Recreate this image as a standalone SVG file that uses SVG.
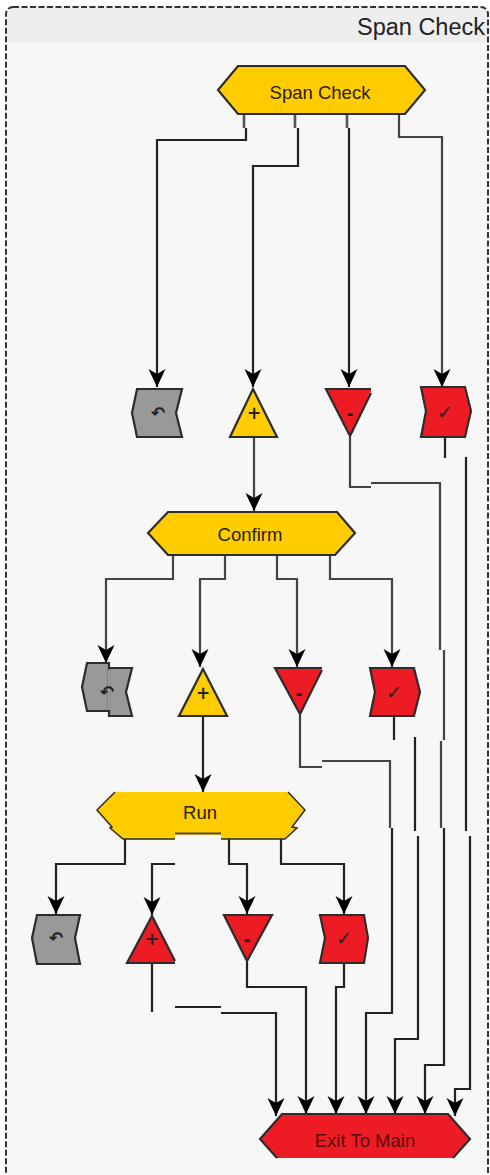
<svg xmlns="http://www.w3.org/2000/svg" width="490" height="1175" viewBox="0 0 490 1175">
<style>
text{font-family:"Liberation Sans",Arial,sans-serif;text-anchor:middle}
.lbl{font-size:18.5px;fill:#2a2000}
.sym{font-family:"DejaVu Sans",sans-serif;font-size:17px;font-weight:bold;fill:#222}
.chk{font-family:"DejaVu Sans",sans-serif;font-size:19px;fill:#222}
.n{stroke:#2c2c2c;stroke-width:2.2;stroke-linejoin:miter}
.y{fill:#ffcc00}.r{fill:#ed1c24}.g{fill:#999}
.c{fill:none;stroke:#222;stroke-width:2.2}
.m{stroke:#444}
.a{marker-end:url(#ah)}
.s{fill:none;stroke:#555;stroke-width:2.6}
</style>
<defs>
<marker id="ah" markerUnits="userSpaceOnUse" viewBox="0 -10 20 20" refX="18" refY="0" markerWidth="20" markerHeight="20" orient="auto"><path d="M18,0 L0,-8.500 L5,0 L0,8.500Z" fill="#000"/></marker>
</defs>
<rect x="0" y="0" width="490" height="1175" fill="#fff"/>
<rect x="6" y="7" width="482" height="1180" rx="7" fill="#f7f7f7"/>
<path d="M7,42V14a7,7 0 0 1 7,-7H481a7,7 0 0 1 7,7V42Z" fill="#eee"/>
<rect x="6" y="7" width="482" height="1180" rx="7" fill="none" stroke="#333" stroke-width="2" stroke-dasharray="6 2.500"/>
<text x="421" y="35" style="font-size:23.5px" fill="#222">Span Check</text>
<g id="connectors">
<path class="s" d="M244,114V128M295,114V128M347,114V128"/>
<path class="c a" d="M246,128V140H157V387"/>
<path class="c a" d="M298,128V166H253V387"/>
<path class="c a" d="M349,128V387"/>
<path class="c m a" d="M399,114V137H442V387"/>
<path class="c m" d="M350,437V487H371"/>
<path class="c m" d="M371,483H440V650"/>
<path class="c m" d="M444,650V740"/>
<path class="c m" d="M441,741V828"/>
<path class="c" d="M445,437V458"/>
<path class="c" d="M466,457V831"/>
<path class="c m a" d="M254,437V511"/>
<path class="c m a" d="M173,555V579H106V663"/>
<path class="c m a" d="M225,555V579H200V667"/>
<path class="c m a" d="M277,555V579H297V667"/>
<path class="c m a" d="M330,555V579H392V667"/>
<path class="c m" d="M300,715V767H322"/>
<path class="c m" d="M322,761H390V828"/>
<path class="c" d="M394,717V740"/>
<path class="c" d="M415,737V831"/>
<path class="c a" d="M203,717V792"/>
<path class="c a" d="M392,828V1013H366V1114"/>
<path class="c a" d="M418,836V1039H395V1114"/>
<path class="c a" d="M444,828V1065H425V1114"/>
<path class="c a" d="M470,836V1089H455V1116"/>
<path class="c a" d="M125,839V864H56V914"/>
<path class="c a" d="M175,864H152V915"/>
<path class="c a" d="M229,839V864H247V914"/>
<path class="c a" d="M281,839V864H344V914"/>
<path class="c" d="M152,963V1012"/>
<path class="c" d="M175,1007H221"/>
<path class="c a" d="M221,1013H276V1116"/>
<path class="c a" d="M247,962V987H306V1114"/>
<path class="c a" d="M344,963V987H336V1114"/>
</g>
<g id="span-check"><polygon class="n y" points="238,66 405,66 425,90 405,114 238,114 218,90"/><text class="lbl" x="320" y="99">Span Check</text></g>
<g id="n1-back"><polygon class="n g" points="137,389 182,389 176,413 182,437 137,437 132,413"/><text class="sym" x="158" y="419">↶</text></g>
<g id="n1-plus"><polygon class="n y" points="253,389 277,437 230,437"/><text class="sym" x="254" y="419">+</text></g>
<g id="n1-minus"><polygon class="r" points="326,389 371,389 371,391 350,436"/><path class="n" fill="none" d="M371,389H326L350,436L371,393"/><text class="sym" x="350" y="420">-</text></g>
<g id="n1-ok"><polygon class="n r" points="421,387 465,387 471,411 465,437 421,437 426,411"/><text class="chk" x="445" y="419">✓</text></g>
<g id="confirm"><polygon class="n y" points="168,512 337,512 355,533 335,555 168,555 148,533"/><text class="lbl" x="250" y="541">Confirm</text></g>
<g id="n2-back"><polygon class="n g" points="87,663 109,663 109,711 87,711 82,687"/><polygon class="n g" points="109,668 132,668 126,692 132,716 109,716"/><path d="M108,669.500H110V710H108Z" fill="#999"/><text class="sym" x="107" y="698">↶</text></g>
<g id="n2-plus"><polygon class="n y" points="203,669 227,716 179,716"/><text class="sym" x="203" y="699">+</text></g>
<g id="n2-minus"><polygon class="r" points="275,668 322,668 300,714"/><path class="n" fill="none" d="M322,668H275L300,714L322,670"/><text class="sym" x="299" y="700">-</text></g>
<g id="n2-ok"><polygon class="n r" points="370,668 414,668 420,692 414,716 370,716 375,692"/><text class="chk" x="394" y="699">✓</text></g>
<g id="run"><polygon class="y" points="115,792 288,792 305,810 292,827 297,828 285,839 123,839 110,828 112,827 97,810"/><path class="n" fill="none" style="stroke-width:1.500" d="M115,792L97,810L112,827L110,828L123,839H285L297,828L292,827L305,810L288,792"/><rect x="175" y="834.500" width="46" height="30" fill="#f7f7f7"/><path d="M175,833.500H221" stroke="#5a4a00" stroke-width="2"/><text class="lbl" x="200" y="819">Run</text></g>
<g id="n3-back"><polygon class="n g" points="37,915 80,915 75,938 80,964 37,964 32,938"/><text class="sym" x="56" y="944">↶</text></g>
<g id="n3-plus"><polygon class="r" points="152,916 175,962 175,963 127,963"/><path class="n" fill="none" d="M175,963H127L152,916L175,961"/><text class="sym" x="152" y="945">+</text></g>
<g id="n3-minus"><polygon class="n r" points="224,915 272,915 247,961"/><text class="sym" x="247" y="946">-</text></g>
<g id="n3-ok"><polygon class="n r" points="320,915 364,915 368,938 364,963 320,963 325,938"/><text class="chk" x="344" y="945">✓</text></g>
<g id="exit"><polygon class="r" points="282,1114 448,1114 470,1139 453,1158 277,1158 260,1139"/><path class="n" fill="none" d="M277,1158L260,1139L282,1114H448L470,1139L453,1158"/><text class="lbl" x="365" y="1147" style="fill:#5a0a0a">Exit To Main</text></g>
</svg>
